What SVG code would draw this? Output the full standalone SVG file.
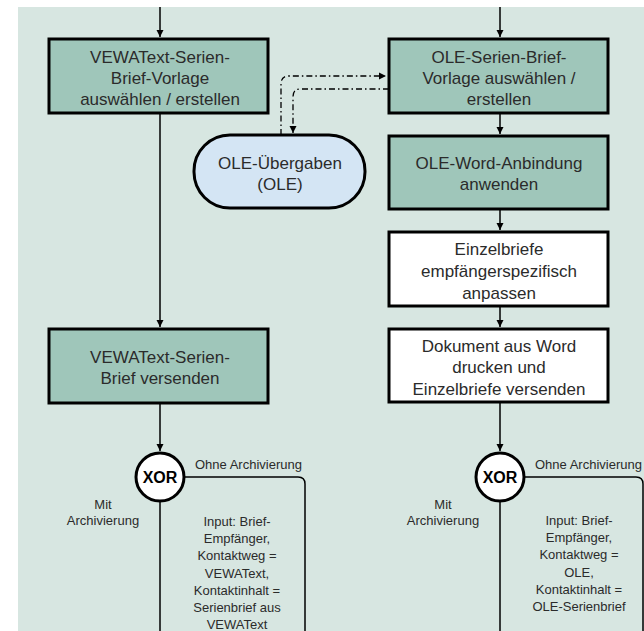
<svg xmlns="http://www.w3.org/2000/svg" width="644" height="631" viewBox="0 0 644 631">
<style>
.box{fill:#9fc6ba;stroke:#000;stroke-width:3}
.wbox{fill:#fff;stroke:#000;stroke-width:3}
.t{font-family:"Liberation Sans",Arial,sans-serif;font-size:17px;fill:#2b2b2b;text-anchor:middle}
.s{font-family:"Liberation Sans",Arial,sans-serif;font-size:13px;fill:#2b2b2b;text-anchor:middle}
.so{font-family:"Liberation Sans",Arial,sans-serif;font-size:13px;fill:#2b2b2b}
.x{font-family:"Liberation Sans",Arial,sans-serif;font-size:16px;font-weight:bold;fill:#000;text-anchor:middle}
.ln{fill:none;stroke:#000;stroke-width:1.5}
.dd{fill:none;stroke:#000;stroke-width:1.3;stroke-dasharray:6 3 1.5 3}
</style>
<defs>
<marker id="ah" markerWidth="8" markerHeight="8" refX="7" refY="4" orient="auto" markerUnits="userSpaceOnUse">
<path d="M0,0.5 L7,4 L0,7.5 Z" fill="#000"/>
</marker>
</defs>
<rect x="0" y="0" width="644" height="631" fill="#fff"/>
<rect x="18" y="7" width="626" height="624" fill="#d7e6e1"/>
<g id="connectors">
<path class="ln" d="M160,7 V37" marker-end="url(#ah)"/>
<path class="ln" d="M160,113 V327" marker-end="url(#ah)"/>
<path class="ln" d="M160,403 V451" marker-end="url(#ah)"/>
<path class="ln" d="M160,501 V631"/>
<path class="ln" d="M184,477 H298 Q305,477 305,484 V631"/>
<path class="ln" d="M500,7 V37" marker-end="url(#ah)"/>
<path class="ln" d="M500,113 V134" marker-end="url(#ah)"/>
<path class="ln" d="M500,209 V230" marker-end="url(#ah)"/>
<path class="ln" d="M500,306 V327" marker-end="url(#ah)"/>
<path class="ln" d="M500,402 V451" marker-end="url(#ah)"/>
<path class="ln" d="M500,501 V631"/>
<path class="ln" d="M524,477 H636 Q643,477 643,484 V631"/>
<path class="dd" d="M281,135 V84 Q281,76 289,76 H386" marker-end="url(#ah)"/>
<path class="dd" d="M389,89 H300 Q293,89 293,97 V133" marker-end="url(#ah)"/>
</g>
<g id="vewa-vorlage">
<rect class="box" x="49" y="39" width="219" height="74"/>
<text class="t" x="160" y="63">VEWAText-Serien-</text>
<text class="t" x="160" y="84">Brief-Vorlage</text>
<text class="t" x="160" y="105">auswählen / erstellen</text>
</g>
<g id="ole-vorlage">
<rect class="box" x="389" y="39" width="219" height="74"/>
<text class="t" x="499" y="63">OLE-Serien-Brief-</text>
<text class="t" x="499" y="84">Vorlage auswählen /</text>
<text class="t" x="499" y="105">erstellen</text>
</g>
<g id="ole-uebergaben">
<rect x="194" y="135" width="171" height="73" rx="36" ry="36" fill="#d4e5f4" stroke="#000" stroke-width="3"/>
<text class="t" x="280" y="169">OLE-Übergaben</text>
<text class="t" x="280" y="190">(OLE)</text>
</g>
<g id="ole-word">
<rect class="box" x="389" y="136" width="219" height="73"/>
<text class="t" x="499" y="169">OLE-Word-Anbindung</text>
<text class="t" x="499" y="190">anwenden</text>
</g>
<g id="einzelbriefe">
<rect class="wbox" x="389" y="232" width="219" height="74"/>
<text class="t" x="499" y="255">Einzelbriefe</text>
<text class="t" x="499" y="277">empfängerspezifisch</text>
<text class="t" x="499" y="299">anpassen</text>
</g>
<g id="dokument">
<rect class="wbox" x="389" y="329" width="219" height="73"/>
<text class="t" x="499" y="352">Dokument aus Word</text>
<text class="t" x="499" y="373">drucken und</text>
<text class="t" x="499" y="395">Einzelbriefe versenden</text>
</g>
<g id="vewa-versenden">
<rect class="box" x="49" y="329" width="219" height="74"/>
<text class="t" x="160" y="363">VEWAText-Serien-</text>
<text class="t" x="160" y="384">Brief versenden</text>
</g>
<g id="xor-left">
<circle cx="160" cy="477" r="24" fill="#fff" stroke="#000" stroke-width="3"/>
<text class="x" x="160" y="483">XOR</text>
</g>
<g id="xor-right">
<circle cx="500" cy="477" r="24" fill="#fff" stroke="#000" stroke-width="3"/>
<text class="x" x="500" y="483">XOR</text>
</g>
<g id="labels">
<text class="so" x="195" y="469">Ohne Archivierung</text>
<text class="so" x="535" y="469">Ohne Archivierung</text>
<text class="s" x="103" y="509">Mit</text>
<text class="s" x="103" y="525">Archivierung</text>
<text class="s" x="443" y="509">Mit</text>
<text class="s" x="443" y="525">Archivierung</text>
<text class="s" x="237" y="526">Input: Brief-</text>
<text class="s" x="237" y="543">Empfänger,</text>
<text class="s" x="237" y="560">Kontaktweg =</text>
<text class="s" x="237" y="578">VEWAText,</text>
<text class="s" x="237" y="595">Kontaktinhalt =</text>
<text class="s" x="237" y="612">Serienbrief aus</text>
<text class="s" x="237" y="629">VEWAText</text>
<text class="s" x="579" y="525">Input: Brief-</text>
<text class="s" x="579" y="542">Empfänger,</text>
<text class="s" x="579" y="559">Kontaktweg =</text>
<text class="s" x="579" y="577">OLE,</text>
<text class="s" x="579" y="594">Kontaktinhalt =</text>
<text class="s" x="579" y="611">OLE-Serienbrief</text>
</g>
</svg>
